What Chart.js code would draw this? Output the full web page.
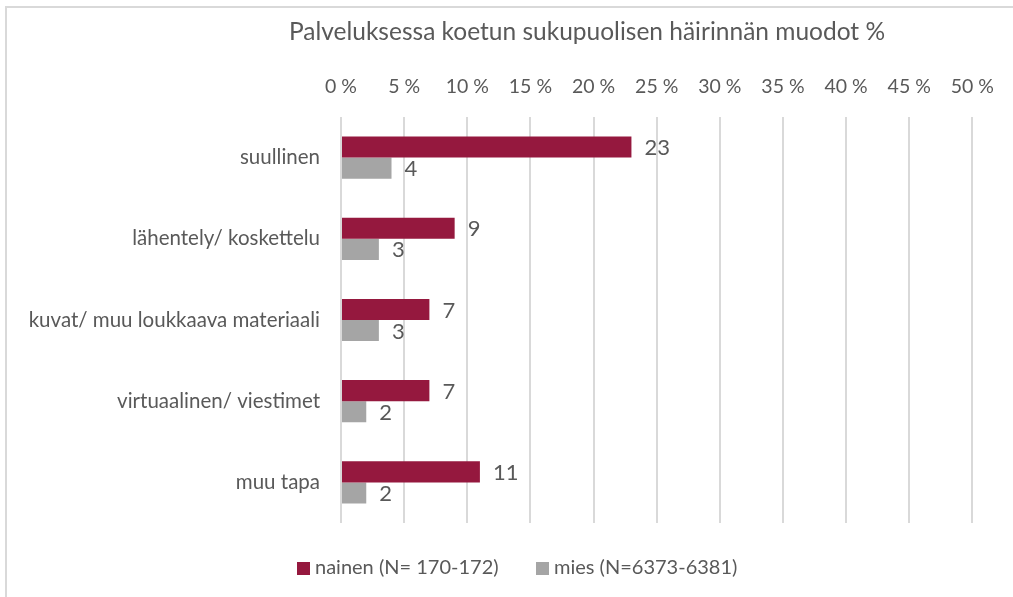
<!DOCTYPE html>
<html>
<head>
<meta charset="utf-8">
<script src="https://cdn.jsdelivr.net/npm/chart.js@4"></script>
<style>
  html, body { margin: 0; padding: 0; background: #ffffff; }
  #wrap { position: relative; width: 1013px; height: 597px; }
</style>
</head>
<body>
<div id="wrap"><canvas id="chart" width="1013" height="597"></canvas></div>
<script>
// Chart data
const categories = ['suullinen', 'lähentely/ koskettelu', 'kuvat/ muu loukkaava materiaali', 'virtuaalinen/ viestimet', 'muu tapa'];
const naisetValues = [23, 9, 7, 7, 11];
const miehetValues = [4, 3, 3, 2, 2];
const seriesLabels = ['nainen (N= 170-172)', 'mies (N=6373-6381)'];
const tickMax = 50;
const tickStep = 5;

const TITLE = 'Palveluksessa koetun sukupuolisen häirinnän muodot %';
const FONT = 'Lato, "Open Sans", sans-serif';
const TEXT_COLOR = '#595959';
const GRID_COLOR = '#d9d9d9';

/**
 * Frame, title, data labels and legend
 */
const decorPlugin = {
    id: 'decor',
    beforeDraw(chart) {
        const ctx = chart.ctx;
        ctx.save();
        ctx.fillStyle = '#ffffff';
        ctx.fillRect(0, 0, chart.width, chart.height);
        // chart frame (only top and left edges are visible)
        ctx.strokeStyle = GRID_COLOR;
        ctx.lineWidth = 2;
        ctx.beginPath();
        ctx.moveTo(6, chart.height);
        ctx.lineTo(6, 7);
        ctx.lineTo(chart.width, 7);
        ctx.stroke();
        // title
        ctx.fillStyle = TEXT_COLOR;
        ctx.font = '24.5px ' + FONT;
        ctx.textAlign = 'center';
        ctx.textBaseline = 'middle';
        ctx.fillText(TITLE, 587, 32);
        ctx.restore();
    },
    afterDatasetsDraw(chart) {
        const ctx = chart.ctx;
        ctx.save();
        ctx.fillStyle = TEXT_COLOR;
        ctx.font = '22px ' + FONT;
        ctx.textAlign = 'left';
        ctx.textBaseline = 'middle';
        chart.data.datasets.forEach((ds, i) => {
            const meta = chart.getDatasetMeta(i);
            meta.data.forEach((bar, j) => {
                ctx.fillText(String(ds.data[j]), bar.x + 13, bar.y + 1);
            });
        });
        ctx.restore();
    },
    afterDraw(chart) {
        const ctx = chart.ctx;
        ctx.save();
        ctx.font = '20px ' + FONT;
        ctx.textBaseline = 'middle';
        ctx.textAlign = 'left';
        const starts = [297, 536];
        const y = 568;
        chart.data.datasets.forEach((ds, i) => {
            ctx.fillStyle = ds.backgroundColor;
            ctx.fillRect(starts[i], y - 6, 13, 13);
            ctx.fillStyle = TEXT_COLOR;
            ctx.fillText(ds.label, starts[i] + 18, y);
        });
        ctx.restore();
    }
};

new Chart(document.getElementById('chart'), {
    type: 'bar',
    data: {
        labels: categories,
        datasets: [{
            label: seriesLabels[0],
            data: naisetValues,
            backgroundColor: '#95183e',
            categoryPercentage: 0.52,
            barPercentage: 1.0
        }, {
            label: seriesLabels[1],
            data: miehetValues,
            backgroundColor: '#a5a5a5',
            categoryPercentage: 0.52,
            barPercentage: 1.0
        }]
    },
    options: {
        indexAxis: 'y',
        responsive: false,
        animation: false,
        layout: {
            padding: { top: 54, right: 40, bottom: 74, left: 0 }
        },
        plugins: {
            legend: { display: false },
            title: { display: false },
            tooltip: { enabled: false }
        },
        scales: {
            x: {
                position: 'top',
                min: 0,
                max: tickMax,
                ticks: {
                    stepSize: tickStep,
                    padding: 19,
                    color: TEXT_COLOR,
                    font: { family: FONT, size: 19.5 },
                    callback: v => v + ' %'
                },
                grid: { color: GRID_COLOR, lineWidth: 2, drawTicks: false },
                border: { display: false },
                afterFit(scale) { scale.height = 63; }
            },
            y: {
                ticks: {
                    padding: 13,
                    color: TEXT_COLOR,
                    font: { family: FONT, size: 20.5 }
                },
                grid: { display: false },
                border: { display: false },
                afterFit(scale) { scale.width = 341; }
            }
        }
    },
    plugins: [decorPlugin]
});
</script>
</body>
</html>
